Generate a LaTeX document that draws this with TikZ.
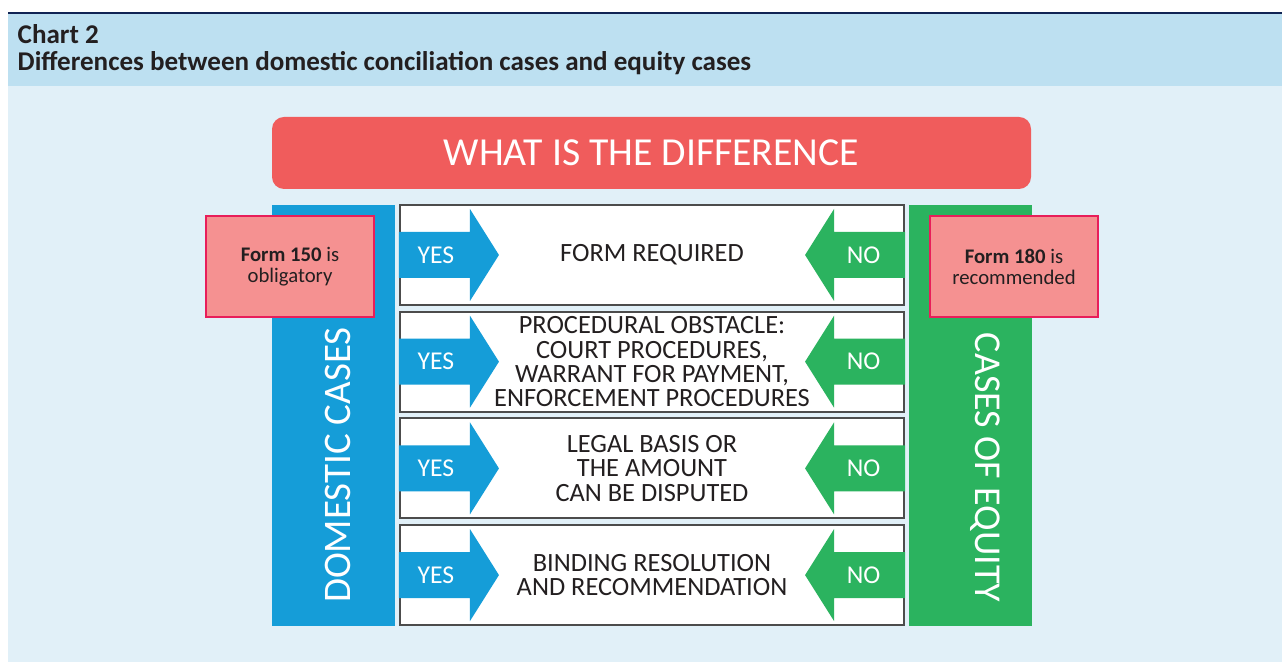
\documentclass[tikz,border=0pt]{standalone}
\usepackage{fontspec}
\setmainfont{Carlito}
\usetikzlibrary{positioning}
\definecolor{headband}{RGB}{189,224,241}
\definecolor{paleback}{RGB}{225,240,248}
\definecolor{navyline}{RGB}{16,36,84}
\definecolor{titlered}{RGB}{240,92,92}
\definecolor{domblue}{RGB}{21,157,216}
\definecolor{eqgreen}{RGB}{43,179,95}
\definecolor{notepink}{RGB}{245,145,145}
\definecolor{noteborder}{RGB}{232,30,90}
\definecolor{textdark}{RGB}{35,31,32}

\begin{document}
\begin{tikzpicture}[
        column/.style={rectangle, minimum width=1.23cm, minimum height=4.21cm, inner sep=0pt},
        sidelabel/.style={text=white, inner sep=0pt, font=\fontsize{11.1}{12}\selectfont},
        rowbox/.style={rectangle, draw=black!70, fill=white, line width=0.6pt, minimum width=5.04cm, minimum height=1.0cm, inner sep=0pt, align=center, text=textdark, font=\fontsize{7.5}{6.9}\selectfont},
        note/.style={rectangle, draw=noteborder, fill=notepink, line width=0.4pt, minimum width=1.68cm, minimum height=1.01cm, align=center, text=textdark, font=\fontsize{5.9}{6}\selectfont},
        answer/.style={text=white, inner sep=0pt, font=\fontsize{7.3}{8}\selectfont},
        heading/.style={anchor=base west, inner sep=0pt, text=textdark, font=\bfseries\fontsize{7.7}{8}\selectfont}
    ]
        % Background and header band
        \useasboundingbox (0,0) rectangle (12.82,6.62);
        \fill[paleback] (0.08,0) rectangle (12.82,5.76);
        \fill[headband] (0.08,5.76) rectangle (12.82,6.48);
        \fill[navyline] (0.08,6.48) rectangle (12.82,6.50);
        
        % Heading
        \node[heading] (chartno) at (0.17,6.18) {Chart 2};
        \node[heading] (charttitle) at (0.17,5.91) {Differences between domestic conciliation cases and equity cases};
        
        % Title bar
        \node[rectangle, rounded corners=0.12cm, fill=titlered, minimum width=7.59cm, minimum height=0.72cm, text=white, font=\fontsize{11.3}{12}\selectfont] (title) at (6.515,5.09) {WHAT IS THE DIFFERENCE};
        
        % Side columns
        \node[column, fill=domblue] (domestic) at (3.335,2.465) {};
        \node[column, fill=eqgreen] (equity) at (9.70,2.465) {};
        \node[sidelabel, rotate=90] (domlabel) at (3.38,1.97) {DOMESTIC CASES};
        \node[sidelabel, rotate=-90, font=\fontsize{10.8}{12}\selectfont] (eqlabel) at (9.85,1.945) {CASES OF EQUITY};
        
        % Rows with yes/no arrows
        \foreach \i/\txt in {1/{FORM REQUIRED},
                2/{PROCEDURAL OBSTACLE:\\COURT PROCEDURES,\\WARRANT FOR PAYMENT,\\ENFORCEMENT PROCEDURES},
                3/{LEGAL BASIS OR\\THE AMOUNT\\CAN BE DISPUTED},
                4/{BINDING RESOLUTION\\AND RECOMMENDATION}} {
            \node[rowbox] (row\i) at (6.52,{4.07-1.067*(\i-1)}) {\txt};
            \fill[domblue, shift={(row\i.west)}] (0,0.23) -- (0.71,0.23) -- (0.71,0.46) -- (1.0,0)
                -- (0.71,-0.46) -- (0.71,-0.23) -- (0,-0.23) -- cycle;
            \fill[eqgreen, shift={(row\i.east)}] (0,0.23) -- (-0.71,0.23) -- (-0.71,0.46) -- (-1.0,0)
                -- (-0.71,-0.46) -- (-0.71,-0.23) -- (0,-0.23) -- cycle;
            \node[answer, right=0.18cm of row\i.west] (yes\i) {YES};
            \node[answer, left=0.24cm of row\i.east] (no\i) {NO};
        }
        
        % Form notes
        \node[note] (formdom) at (2.90,3.955) {\textbf{Form 150} is\\obligatory};
        \node[note] (formeq) at (10.14,3.955) {\textbf{Form 180} is\\recommended};
        
    \end{tikzpicture}
\end{document}
